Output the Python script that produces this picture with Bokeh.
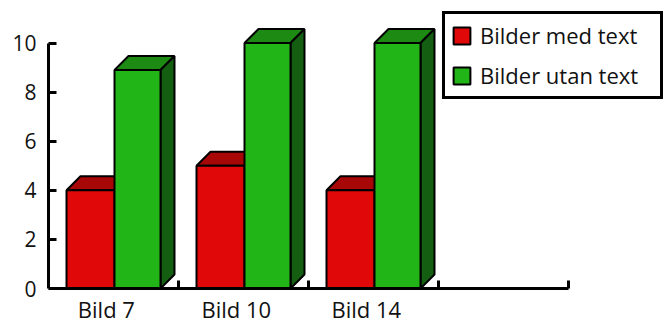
from bokeh.plotting import figure
from bokeh.models import Legend, LegendItem, FixedTicker, Range1d
from bokeh.embed import file_html
from bokeh.resources import INLINE

# ---- data ----
categories = ["Bild 7", "Bild 10", "Bild 14"]
series_names = ["Bilder med text", "Bilder utan text"]
with_text = [4, 5, 4]
without_text = [8.9, 10, 10]
y_ticks = [0, 2, 4, 6, 8, 10]

# ---- style / geometry constants ----
FONT = "Open Sans"
PX_X = 130.0          # pixels per category slot
PX_Y = 24.55          # pixels per y unit
LEFT, TOP = 48, 10
AXIS_Y = 288          # pixel row of the value 0
W, H = 665, 322
DX = 14 / PX_X        # 3D depth in x units
DY = 14 / PX_Y        # 3D depth in y units
RED_L, RED_R = 18 / PX_X, 66 / PX_X
GRN_L, GRN_R = 66 / PX_X, 112 / PX_X
LABEL_POS = 0.445

COLORS = {
    "red": ("#E00808", "#A80707", "#8A0505"),
    "green": ("#22B518", "#1C8A13", "#135E10"),
}

p = figure(width=W, height=H, output_backend="svg", toolbar_location=None,
           x_range=Range1d(0, (W - LEFT) / PX_X),
           y_range=Range1d(-(H - AXIS_Y) / PX_Y, (AXIS_Y - TOP) / PX_Y),
           min_border_left=LEFT, min_border_right=0,
           min_border_top=TOP, min_border_bottom=0)
p.outline_line_color = None
p.xgrid.visible = False
p.ygrid.visible = False
p.background_fill_color = "white"
p.border_fill_color = "white"


def draw_series(values, l_off, r_off, colors):
    front_c, top_c, side_c = colors
    lefts = [i + l_off for i in range(len(values))]
    rights = [i + r_off for i in range(len(values))]
    top_xs, top_ys, side_xs, side_ys = [], [], [], []
    for l, r, v in zip(lefts, rights, values):
        top_xs.append([l, r, r + DX, l + DX])
        top_ys.append([v, v, v + DY, v + DY])
        side_xs.append([r, r, r + DX, r + DX])
        side_ys.append([0, v, v + DY, DY])
    p.patches(top_xs, top_ys, fill_color=top_c, line_color="black", line_width=2)
    p.patches(side_xs, side_ys, fill_color=side_c, line_color="black", line_width=2)
    front = p.quad(left=lefts, right=rights, bottom=0, top=values,
                   fill_color=front_c, line_color="black", line_width=2)
    return front


r_red = draw_series(with_text, RED_L, RED_R, COLORS["red"])
r_green = draw_series(without_text, GRN_L, GRN_R, COLORS["green"])

# ---- axes ----
xa = p.xaxis[0]
xa.fixed_location = 0
xa.ticker = FixedTicker(ticks=[i + LABEL_POS for i in range(len(categories))],
                        minor_ticks=[1, 2, 3, 4])
xa.major_label_overrides = {i + LABEL_POS: c for i, c in enumerate(categories)}
xa.bounds = (0, 4)
xa.axis_line_width = 3
xa.axis_line_color = "black"
xa.major_tick_line_color = None
xa.major_tick_in = 0
xa.major_tick_out = 0
xa.minor_tick_line_color = "black"
xa.minor_tick_line_width = 3
xa.minor_tick_in = 8
xa.minor_tick_out = 0
xa.major_label_standoff = 5
xa.major_label_text_font = FONT
xa.major_label_text_font_size = "22px"
xa.major_label_text_color = "#111111"

ya = p.yaxis[0]
ya.ticker = FixedTicker(ticks=y_ticks)
ya.bounds = (0, 10)
ya.axis_line_width = 3
ya.axis_line_color = "black"
ya.major_tick_line_width = 3
ya.major_tick_line_color = "black"
ya.major_tick_in = 8
ya.major_tick_out = 0
ya.minor_tick_line_color = None
ya.major_label_standoff = 12
ya.major_label_text_font = FONT
ya.major_label_text_font_size = "21px"
ya.major_label_text_color = "#111111"

# ---- legend ----
legend = Legend(items=[LegendItem(label=series_names[0], renderers=[r_red]),
                       LegendItem(label=series_names[1], renderers=[r_green])],
                location=(394, H - 99))
legend.border_line_color = "black"
legend.border_line_width = 3
legend.border_line_alpha = 1
legend.background_fill_color = "white"
legend.background_fill_alpha = 1
legend.label_text_font = FONT
legend.label_text_font_size = "22px"
legend.label_text_color = "#111111"
legend.glyph_width = 21
legend.glyph_height = 21
legend.label_height = 28
legend.label_width = 174
legend.label_standoff = 8
legend.spacing = 10
legend.padding = 6
legend.margin = 0
p.add_layout(legend, "center")

open("out.html", "w").write(file_html(p, INLINE))
